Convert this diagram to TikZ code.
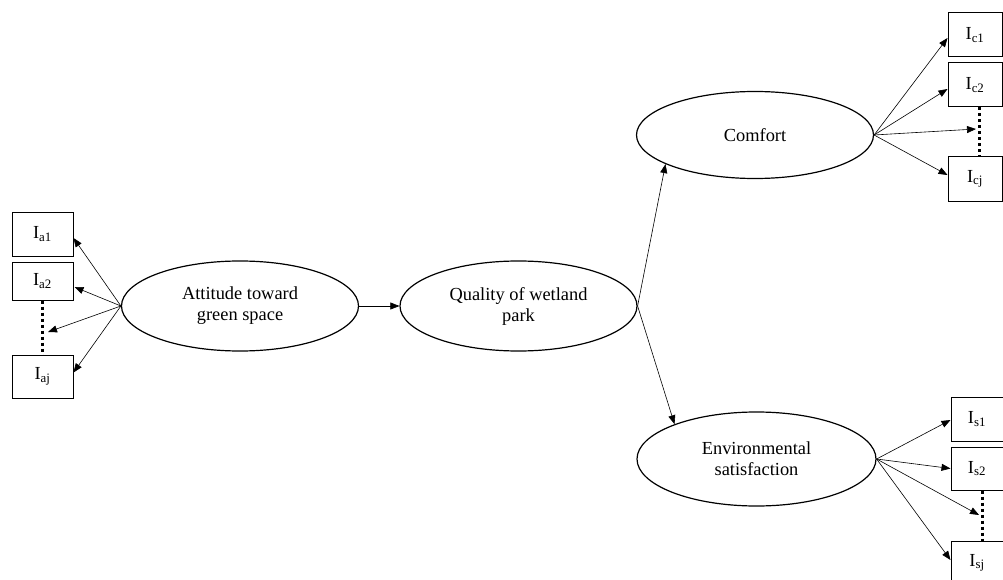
\documentclass[tikz,border=0pt]{standalone}
\usepackage{fontspec}
\setmainfont{Liberation Serif}
\usetikzlibrary{arrows.meta,calc,shapes.geometric}
\begin{document}
\begin{tikzpicture}[x=1pt,y=-1pt,
  lat/.style={draw,ellipse,line width=1.2pt,inner sep=0pt,align=center,
    minimum width=237pt,minimum height=90pt,font=\fontsize{18.4}{21}\selectfont},
  ind/.style={draw,rectangle,line width=1pt,inner sep=0pt,minimum width=61pt,
    font=\fontsize{18.4}{21}\selectfont},
  arr/.style={-{Triangle[length=9pt,width=7pt]},line width=0.6pt},
  dotl/.style={line width=3pt,dash pattern=on 3pt off 3pt}]
\useasboundingbox (0,0) rectangle (1003,580);

% latent variables
\node[lat] (att) at (240,306) {Attitude toward\\green space};
\node[lat] (qual) at (518.5,306) {Quality of wetland\\park};
\node[lat,minimum height=87pt] (com) at (755,135) {Comfort};
\node[lat,minimum width=239pt,minimum height=94pt] (env) at (756.5,459) {Environmental\\satisfaction};

% left indicators
\node[ind,minimum height=44pt] (ia1) at (42.5,234) {I\textsubscript{a1}};
\node[ind,minimum height=38pt] (ia2) at (42.5,281) {I\textsubscript{a2}};
\node[ind,minimum height=43pt] (iaj) at (42.5,376.5) {I\textsubscript{aj}};
\draw[dotl] (ia2.south) -- (iaj.north);
\coordinate (adot) at (48,332);

% comfort indicators
\node[ind,minimum width=54pt,minimum height=44pt] (ic1) at (975,35) {I\textsubscript{c1}};
\node[ind,minimum width=54pt,minimum height=44pt] (ic2) at (975,85) {I\textsubscript{c2}};
\node[ind,minimum width=54pt,minimum height=44pt] (icj) at (975,179) {I\textsubscript{cj}};
\draw[dotl] ($(ic2.south)+(4,0)$) -- ($(icj.north)+(4,0)$);
\coordinate (cdot) at (976,129);

% satisfaction indicators
\node[ind,minimum width=52pt,minimum height=44pt] (is1) at (977,419) {I\textsubscript{s1}};
\node[ind,minimum width=52pt,minimum height=43pt] (is2) at (977,468.5) {I\textsubscript{s2}};
\node[ind,minimum width=52pt,minimum height=44pt] (isj) at (977,563) {I\textsubscript{sj}};
\draw[dotl] ($(is2.south)+(5,0)$) -- ($(isj.north)+(5,0)$);
\coordinate (sdot) at (979,515);

% structural paths
\draw[arr] (att.east) -- (qual.west);
\draw[arr] (qual.east) -- (com.198);
\draw[arr] (qual.east) -- (env.157);

% measurement paths
\draw[arr] (att.west) -- ($(ia1.east)+(0,4)$);
\draw[arr] (att.west) -- ($(ia2.east)+(1,6)$);
\draw[arr] (att.west) -- (adot);
\draw[arr] (att.west) -- ($(iaj.east)+(0,-4)$);

\draw[arr] (com.east) -- ($(ic1.west)+(0,3)$);
\draw[arr] (com.east) -- ($(ic2.west)+(0,4)$);
\draw[arr] (com.east) -- (cdot);
\draw[arr] (com.east) -- ($(icj.west)+(0,-4)$);

\draw[arr] (env.east) -- ($(is1.west)+(0,1)$);
\draw[arr] (env.east) -- ($(is2.west)+(0,0)$);
\draw[arr] (env.east) -- (sdot);
\draw[arr] (env.east) -- ($(isj.west)+(0,-3)$);
\end{tikzpicture}
\end{document}
